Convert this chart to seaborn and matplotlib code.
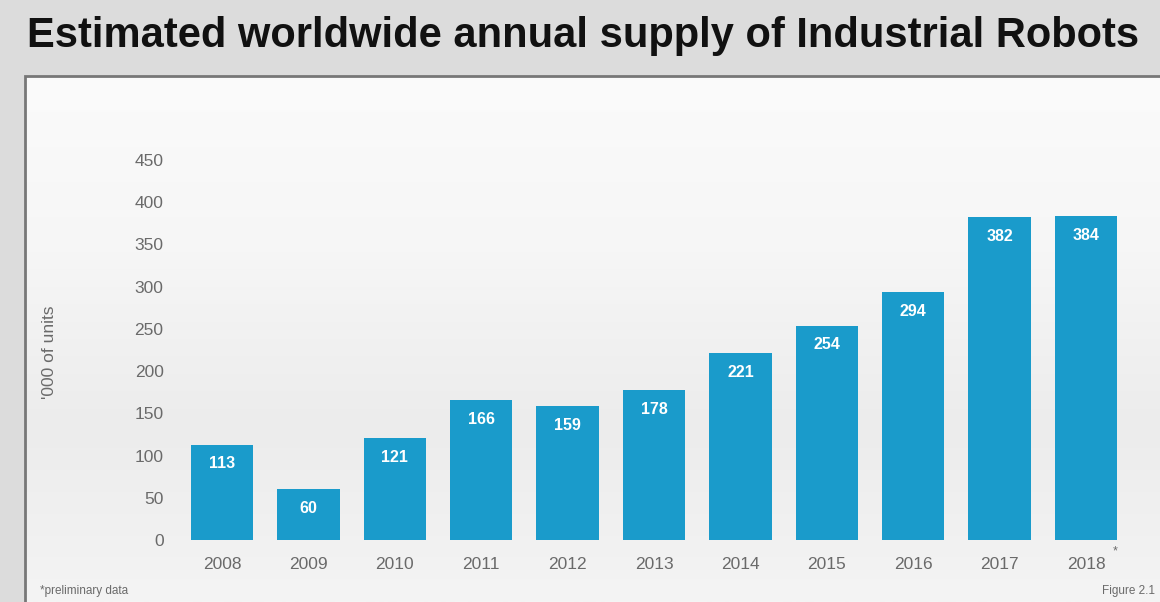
import numpy as np
import pandas as pd
import matplotlib
matplotlib.use("Agg")
import matplotlib.pyplot as plt
from matplotlib.patches import Rectangle
from matplotlib.colors import LinearSegmentedColormap
import seaborn as sns

# Chart data
years = ["2008", "2009", "2010", "2011", "2012", "2013",
         "2014", "2015", "2016", "2017", "2018"]
units = [113, 60, 121, 166, 159, 178, 221, 254, 294, 382, 384]
y_ticks = [0, 50, 100, 150, 200, 250, 300, 350, 400, 450]

title = "Estimated worldwide annual supply of Industrial Robots"
y_label = "'000 of units"
footnote = "*preliminary data"
figure_ref = "Figure 2.1"

BAR_COLOR = "#1a9bcb"
TICK_COLOR = "#6a6a6a"

sns.set_theme(style="white")
plt.rcParams["font.family"] = ["Liberation Sans", "DejaVu Sans"]

W, H = 1160, 602
fig = plt.figure(figsize=(W / 100, H / 100), dpi=100)
fig.patch.set_facecolor("#dcdcdc")

# white panel fading to light grey, with a grey frame
fade = np.linspace(0, 1, 256).reshape(-1, 1)
panel_cmap = LinearSegmentedColormap.from_list("panel", ["#fbfbfb", "#f6f6f6", "#ececec", "#f4f4f4"])
bg_ax = fig.add_axes([25 / W, 0, 1 - 25 / W, (H - 76) / H], zorder=0.5)
bg_ax.imshow(fade, aspect="auto", cmap=panel_cmap, extent=[0, 1, 0, 1], origin="upper")
bg_ax.set_axis_off()
frame = Rectangle((25 / W, -0.01), 1 - 25 / W + 0.02, (H - 76) / H + 0.01,
                  transform=fig.transFigure, facecolor="none",
                  edgecolor="#777777", linewidth=2, zorder=1)
fig.patches.append(frame)

fig.text(27 / W, 1 - 36 / H, title, fontsize=30, fontweight="bold",
         color="#111111", va="center", ha="left")

ax = fig.add_axes([178.8 / W, (H - 540) / H, 950.4 / W, 380 / H], zorder=2)
ax.patch.set_alpha(0)

df = pd.DataFrame({"year": years, "units": units})
sns.barplot(data=df, x="year", y="units", color=BAR_COLOR, saturation=1,
            width=0.72, linewidth=0, ax=ax)

for i, v in enumerate(units):
    ax.text(i, v - 14, str(v), ha="center", va="top", color="white",
            fontsize=11.5, fontweight="bold")

ax.set_ylim(0, 450)
ax.set_xlim(-0.5, len(years) - 0.5)
ax.set_yticks(y_ticks)
ax.set_yticklabels([str(t) for t in y_ticks])
ax.set_xticks(range(len(years)))
ax.set_xticklabels(years)
ax.tick_params(axis="both", length=0, labelsize=12.5, labelcolor=TICK_COLOR)
ax.tick_params(axis="y", pad=11)
ax.tick_params(axis="x", pad=12)
ax.set_xlabel("")
ax.set_ylabel("")
sns.despine(ax=ax, left=True, bottom=True)
ax.grid(False)

# asterisk on the preliminary year
ax.annotate("*", xy=(len(years) - 1, 0), xycoords=("data", "axes fraction"),
            xytext=(21, -8), textcoords="offset points",
            fontsize=9, color=TICK_COLOR, ha="center", va="center")

fig.text(50 / W, 1 - 352 / H, y_label, rotation=90, fontsize=12.5,
         color=TICK_COLOR, ha="center", va="center")
fig.text(40 / W, 1 - 591 / H, footnote, fontsize=8.5, color=TICK_COLOR,
         ha="left", va="center")
fig.text(1155 / W, 1 - 591 / H, figure_ref, fontsize=8.5, color=TICK_COLOR,
         ha="right", va="center")

fig.savefig("out.png", dpi=100, facecolor=fig.get_facecolor())
